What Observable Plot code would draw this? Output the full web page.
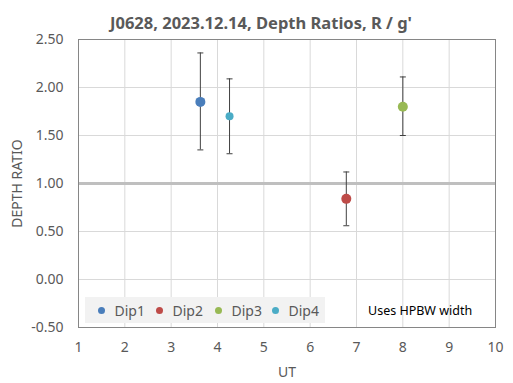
<!DOCTYPE html>
<html>
<head>
<meta charset="utf-8">
<script src="https://cdn.jsdelivr.net/npm/d3@7"></script>
<script src="https://cdn.jsdelivr.net/npm/@observablehq/plot@0.6"></script>
<style>
  html, body { margin: 0; padding: 0; background: #fff; }
  #wrap { position: relative; width: 513px; height: 383px; font-family: "Noto Sans", sans-serif; }
  #legend { position: absolute; left: 85px; top: 297px; width: 240px; height: 26px; background: #f2f2f2;
            font-size: 14px; color: #595959; }
  #legend .item { display: flex; align-items: center; position: absolute; top: 0; height: 26px; }
  #legend .sw { width: 7px; height: 7px; border-radius: 50%; margin-right: 10px; }
  #note { position: absolute; left: 368px; top: 302px; font-size: 12.5px; color: #000; white-space: nowrap; }
</style>
</head>
<body>
<div id="wrap"></div>
<script>
const dips = ["Dip1", "Dip2", "Dip3", "Dip4"];
const ut = [3.63, 6.78, 8.0, 4.26];
const ratio = [1.85, 0.84, 1.80, 1.70];
const errLow = [1.35, 0.56, 1.50, 1.31];
const errHigh = [2.36, 1.12, 2.11, 2.09];
const colors = ["#4a7ebb", "#be4b48", "#98b954", "#4bacc6"];
const radii = [5, 5, 5, 4];
const xTicks = [1, 2, 3, 4, 5, 6, 7, 8, 9, 10];
const yTicks = [-0.5, 0, 0.5, 1.0, 1.5, 2.0, 2.5];
const refLine = [1.0];
const title = "J0628, 2023.12.14, Depth Ratios, R / g'";
const note = "Uses HPBW width";

const data = dips.map((d, i) => ({dip: d, ut: ut[i], ratio: ratio[i], lo: errLow[i], hi: errHigh[i], r: radii[i]}));
const caps = data.flatMap(d => [{ut: d.ut, y: d.lo}, {ut: d.ut, y: d.hi}]);

const capSymbol = {
  draw(context, size) {
    context.moveTo(-3, 0);
    context.lineTo(3, 0);
  }
};

const chart = Plot.plot({
  width: 513,
  height: 383,
  marginLeft: 78,
  marginRight: 18,
  marginTop: 39,
  marginBottom: 56,
  style: {fontFamily: "Noto Sans, sans-serif", fontSize: "14px", color: "#595959", background: "#fff"},
  x: {domain: [1, 10], ticks: xTicks, tickSize: 0, tickPadding: 15, label: "UT", labelAnchor: "center", labelArrow: "none", labelOffset: 49},
  y: {domain: [-0.5, 2.5], ticks: yTicks, tickSize: 0, tickPadding: 15, tickFormat: d => d.toFixed(2), label: "DEPTH RATIO", labelAnchor: "center", labelArrow: "none", labelOffset: 66},
  r: {type: "identity"},
  color: {domain: dips, range: colors},
  marks: [
    Plot.gridX(xTicks, {stroke: "#d9d9d9", strokeOpacity: 1}),
    Plot.gridY(yTicks, {stroke: "#d9d9d9", strokeOpacity: 1}),
    Plot.ruleY(refLine, {stroke: "#bfbfbf", strokeWidth: 3}),
    Plot.frame({stroke: "#868686"}),
    Plot.ruleX(data, {x: "ut", y1: "lo", y2: "hi", stroke: "#404040", strokeWidth: 1}),
    Plot.dot(caps, {x: "ut", y: "y", symbol: capSymbol, stroke: "#404040", fill: "none", strokeWidth: 1}),
    Plot.dot(data, {x: "ut", y: "ratio", fill: "dip", r: "r", stroke: "none"}),
    Plot.text([title], {text: d => d, frameAnchor: "top", dy: -22, dx: -26, fontSize: 16.5, fontWeight: "bold", fill: "#595959"})
  ]
});
chart.style.position = "absolute";
chart.style.left = "0px";
chart.style.top = "0px";
chart.style.maxWidth = "none";

const wrap = document.getElementById("wrap");
wrap.appendChild(chart);

const legend = document.createElement("div");
legend.id = "legend";
const lefts = [12.5, 70.5, 129.5, 186.5];
dips.forEach((d, i) => {
  const item = document.createElement("div");
  item.className = "item";
  item.style.left = lefts[i] + "px";
  const sw = document.createElement("span");
  sw.className = "sw";
  sw.style.background = colors[i];
  const t = document.createElement("span");
  t.textContent = d;
  item.appendChild(sw);
  item.appendChild(t);
  legend.appendChild(item);
});
wrap.appendChild(legend);

const n = document.createElement("div");
n.id = "note";
n.textContent = note;
wrap.appendChild(n);
</script>
</body>
</html>
